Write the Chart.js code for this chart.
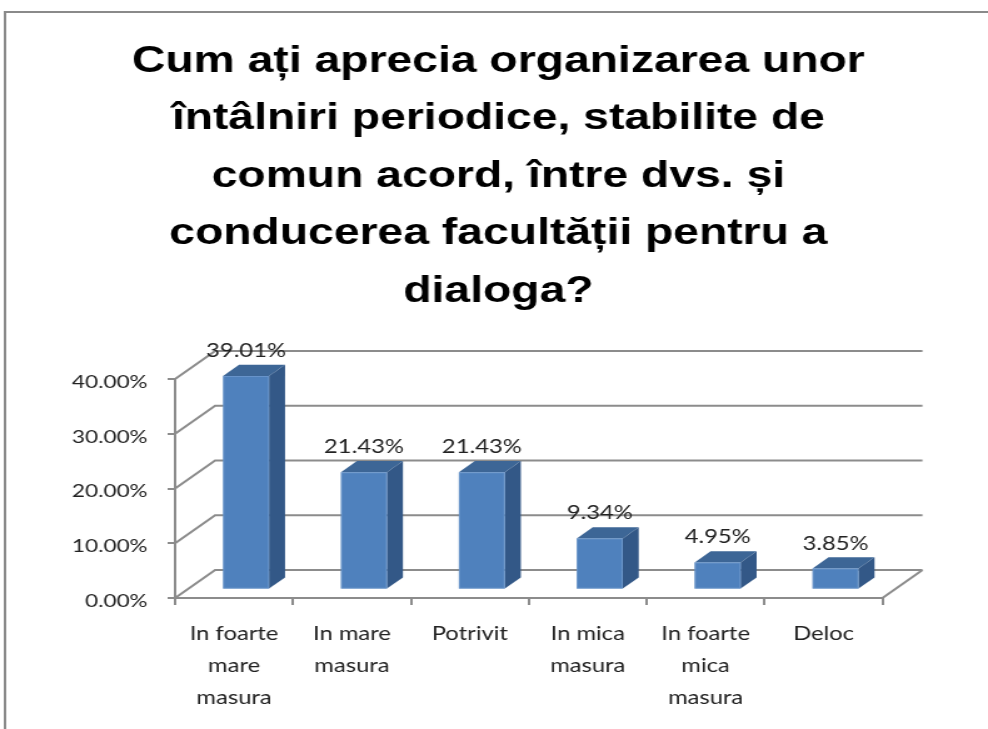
<!DOCTYPE html>
<html>
<head>
<meta charset="utf-8">
<script src="https://cdn.jsdelivr.net/npm/chart.js@4/dist/chart.umd.min.js"></script>
<style>
  html, body { margin: 0; background: #fff; }
  canvas { display: block; }
</style>
</head>
<body>
<!-- the original picture is stretched sideways, so the canvas is too -->
<canvas id="chart" width="790" height="729" style="width:988px;height:729px"></canvas>
<script>
const titleLines = [
  "Cum ați aprecia organizarea unor",
  "întâlniri periodice, stabilite de",
  "comun acord, între dvs. și",
  "conducerea facultății pentru a",
  "dialoga?"
];
const categories = [
  ["In foarte", "mare", "masura"],
  ["In mare", "masura"],
  ["Potrivit"],
  ["In mica", "masura"],
  ["In foarte", "mica", "masura"],
  ["Deloc"]
];
const values = [39.01, 21.43, 21.43, 9.34, 4.95, 3.85];
const yTicks = [0, 10, 20, 30, 40];

const DEPTH_X = 32, DEPTH_Y = -28;
const GRID = "#8c8c8c";
const FRONT = "#4f81bd", TOP = "#3d6696", SIDE = "#335887";
const TEXT = "#222";

const pct = v => v.toFixed(2) + "%";

// frame, walls and back gridlines of the 3D box
const walls = {
  id: "walls",
  beforeDraw(chart) {
    const { ctx, width, height } = chart;
    ctx.save();
    ctx.fillStyle = "#fff";
    ctx.fillRect(0, 0, width, height);
    ctx.strokeStyle = "#8a8a8a";
    ctx.lineWidth = 2;
    ctx.beginPath();
    ctx.moveTo(4, height);
    ctx.lineTo(4, 12);
    ctx.lineTo(width, 12);
    ctx.stroke();
    ctx.restore();
  },
  beforeDatasetsDraw(chart) {
    const { ctx, chartArea: a, scales: { y } } = chart;
    ctx.save();
    ctx.strokeStyle = GRID;
    ctx.lineWidth = 2;
    ctx.beginPath();
    yTicks.forEach(v => {
      const py = y.getPixelForValue(v);
      ctx.moveTo(a.left, py);
      ctx.lineTo(a.left + DEPTH_X, py + DEPTH_Y);
      ctx.lineTo(a.right + DEPTH_X, py + DEPTH_Y);
    });
    ctx.moveTo(a.right, a.bottom);
    ctx.lineTo(a.right + DEPTH_X, a.bottom + DEPTH_Y);
    ctx.stroke();
    ctx.restore();
  }
};

// boxes drawn from the bar elements Chart.js lays out
const bars3d = {
  id: "bars3d",
  afterDatasetsDraw(chart) {
    const { ctx } = chart;
    const meta = chart.getDatasetMeta(0);
    const fx = DEPTH_X * 0.3, fy = DEPTH_Y * 0.3;
    const dx = DEPTH_X * 0.4, dy = DEPTH_Y * 0.4;
    const tops = [];
    ctx.save();
    meta.data.forEach(bar => {
      const { x, y, base, width } = bar.getProps(["x", "y", "base", "width"], true);
      const l = x - width / 2 + fx, r = l + width, t = y + fy, b = base + fy;
      ctx.fillStyle = SIDE;
      ctx.beginPath();
      ctx.moveTo(r, t);
      ctx.lineTo(r + dx, t + dy);
      ctx.lineTo(r + dx, b + dy);
      ctx.lineTo(r, b);
      ctx.closePath();
      ctx.fill();
      ctx.fillStyle = TOP;
      ctx.beginPath();
      ctx.moveTo(l, t);
      ctx.lineTo(l + dx, t + dy);
      ctx.lineTo(r + dx, t + dy);
      ctx.lineTo(r, t);
      ctx.closePath();
      ctx.fill();
      ctx.fillStyle = FRONT;
      ctx.fillRect(l, t, width, b - t);
      ctx.strokeStyle = "rgba(120,160,210,0.6)";
      ctx.lineWidth = 1;
      ctx.strokeRect(l + 0.5, t + 0.5, width - 1, b - t - 1);
      tops.push([l + width / 2, t]);
    });
    ctx.fillStyle = TEXT;
    ctx.font = "19px Lato";
    ctx.textAlign = "center";
    ctx.textBaseline = "alphabetic";
    tops.forEach(([cx, t], i) => ctx.fillText(pct(values[i]), cx, t - 19));
    ctx.restore();
  }
};

new Chart(document.getElementById("chart"), {
  type: "bar",
  data: {
    labels: categories,
    datasets: [{
      data: values,
      backgroundColor: "rgba(0,0,0,0)",
      borderWidth: 0,
      barPercentage: 0.39,
      categoryPercentage: 1
    }]
  },
  options: {
    responsive: false,
    animation: false,
    devicePixelRatio: 1,
    layout: { padding: { left: 7, right: 0, top: 0, bottom: 0 } },
    plugins: {
      legend: { display: false },
      tooltip: { enabled: false },
      title: {
        display: true,
        text: titleLines,
        color: "#000",
        font: { family: "Liberation Sans", size: 37, weight: "bold", lineHeight: 57.5 / 37 },
        padding: { top: 33, bottom: 58.5 }
      }
    },
    scales: {
      x: {
        offset: true,
        grid: { offset: true, drawOnChartArea: false, tickLength: 7, color: GRID, lineWidth: 2 },
        border: { color: GRID, width: 2 },
        ticks: {
          padding: 13, maxRotation: 0, autoSkip: false, color: TEXT,
          font: { family: "Lato", size: 19, lineHeight: 32 / 19 }
        },
        afterFit(s) { s.height = 131; }
      },
      y: {
        min: 0,
        max: 40,
        afterBuildTicks(s) { s.ticks = yTicks.map(v => ({ value: v })); },
        grid: { drawOnChartArea: false, tickLength: 6, color: GRID, lineWidth: 2 },
        border: { color: GRID, width: 2 },
        ticks: {
          padding: 16, labelOffset: 3, color: TEXT,
          font: { family: "Lato", size: 18 },
          callback: v => pct(v)
        },
        afterFit(s) { s.width = 133; }
      },
      y2: {
        position: "right",
        grid: { display: false },
        border: { display: false },
        ticks: { display: false },
        afterFit(s) { s.width = 84.4; }
      }
    }
  },
  plugins: [walls, bars3d]
});
</script>
</body>
</html>
